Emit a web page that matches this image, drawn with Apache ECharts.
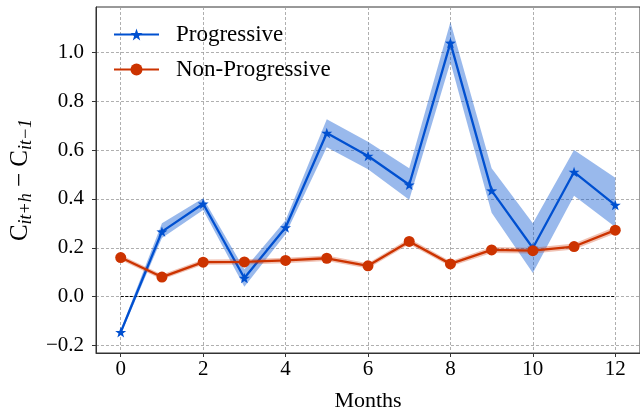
<!DOCTYPE html>
<html>
<head>
<meta charset="utf-8">
<script src="https://cdn.jsdelivr.net/npm/echarts@6/dist/echarts.min.js"></script>
<style>
  html, body { margin: 0; padding: 0; background: #fff; }
  #chart { width: 640px; height: 417px; }
</style>
</head>
<body>
<div id="chart"></div>
<script>
// data
const months = [0, 1, 2, 3, 4, 5, 6, 7, 8, 9, 10, 11, 12];

const progressive     = [-0.146, 0.266, 0.380, 0.076, 0.283, 0.670, 0.576, 0.458, 1.039, 0.434, 0.199, 0.510, 0.375];
const progressiveLow  = [-0.155, 0.240, 0.355, 0.040, 0.255, 0.612, 0.522, 0.397, 0.960, 0.343, 0.097, 0.413, 0.285];
const progressiveHigh = [-0.137, 0.300, 0.403, 0.112, 0.313, 0.726, 0.634, 0.526, 1.125, 0.526, 0.300, 0.600, 0.487];

const nonProgressive     = [0.160, 0.080, 0.141, 0.142, 0.148, 0.157, 0.126, 0.226, 0.134, 0.191, 0.188, 0.205, 0.272];
const nonProgressiveLow  = [0.150, 0.070, 0.130, 0.131, 0.137, 0.146, 0.115, 0.214, 0.123, 0.179, 0.176, 0.193, 0.258];
const nonProgressiveHigh = [0.170, 0.090, 0.152, 0.153, 0.159, 0.168, 0.137, 0.238, 0.145, 0.203, 0.200, 0.217, 0.286];

const xTicks = [0, 2, 4, 6, 8, 10, 12];
const yTicks = [-0.2, 0, 0.2, 0.4, 0.6, 0.8, 1.0];

// dashed reference line at y = 0
const zeroLine = { y: 0, from: 0, to: 12 };

const FONT = '"Liberation Serif", "DejaVu Serif", serif';
const BLUE = '#0050d0';
const RED = '#cc3300';
const STAR = 'path://M0,-10 L2.35,-3.24 L9.51,-3.09 L3.8,1.24 L5.88,8.09 L0,4 L-5.88,8.09 L-3.8,1.24 L-9.51,-3.09 L-2.35,-3.24 Z';

const chart = echarts.init(document.getElementById('chart'));

// shaded band drawn as one polygon through the axes' own scales
function bandRenderer(low, high, fill) {
    return function (params, api) {
        if (params.dataIndex !== 0) return null;
        const pts = [];
        for (let i = 0; i < months.length; i++) pts.push(api.coord([months[i], high[i]]));
        for (let i = months.length - 1; i >= 0; i--) pts.push(api.coord([months[i], low[i]]));
        return { type: 'polygon', shape: { points: pts }, style: { fill: fill } };
    };
}

function pairs(values) {
    return months.map((m, i) => [m, values[i]]);
}

function fmtY(v) {
    const s = Math.abs(v).toFixed(1);
    return v < -1e-9 ? '\u2212' + s : s;
}

const gridLine = { show: true, lineStyle: { type: [3, 2], color: '#9a9a9a', width: 0.8 } };

const option = {
    animation: false,
    backgroundColor: '#fff',
    grid: {
        left: 95, right: -10, top: 7, bottom: 60,
        show: true, borderColor: '#333', borderWidth: 1
    },
    legend: {
        data: ['Progressive', 'Non-Progressive'],
        orient: 'vertical',
        left: 113,
        top: 23,
        padding: 0,
        itemWidth: 45,
        itemHeight: 15,
        itemGap: 12,
        textStyle: { fontFamily: FONT, fontSize: 23, color: '#000', lineHeight: 22, padding: [0, 0, 0, 12] }
    },
    xAxis: {
        type: 'value',
        min: -0.6,
        max: 12.6,
        name: 'Months',
        nameLocation: 'middle',
        nameGap: 37,
        nameTextStyle: { fontFamily: FONT, fontSize: 22, color: '#000' },
        axisLine: { show: true, onZero: false, lineStyle: { color: '#333', width: 1 } },
        axisTick: { show: true, inside: false, length: 4, customValues: xTicks, lineStyle: { color: '#333' } },
        axisLabel: { customValues: xTicks, fontFamily: FONT, fontSize: 21, color: '#000', margin: 6 },
        splitLine: gridLine
    },
    yAxis: {
        type: 'value',
        min: -0.231,
        max: 1.186,
        name: '{c|C}{s|it+h}{m| \u2212 }{c|C}{s|it\u22121}',
        nameLocation: 'middle',
        nameRotate: 90,
        nameGap: 58,
        nameTextStyle: {
            fontFamily: FONT, color: '#000',
            rich: {
                c: { fontFamily: FONT, fontSize: 25, color: '#000' },
                m: { fontFamily: FONT, fontSize: 25, color: '#000' },
                s: { fontFamily: FONT, fontSize: 18, fontStyle: 'italic', color: '#000', padding: [11, 0, 0, 0] }
            }
        },
        axisLine: { show: true, onZero: false, lineStyle: { color: '#333', width: 1 } },
        axisTick: { show: true, inside: false, length: 4, customValues: yTicks, lineStyle: { color: '#333' } },
        axisLabel: { customValues: yTicks, fontFamily: FONT, fontSize: 21, color: '#000', margin: 12, formatter: fmtY },
        splitLine: gridLine
    },
    series: [
        {
            name: 'Progressive band',
            type: 'custom',
            data: months.map((m, i) => [m, progressiveLow[i], progressiveHigh[i]]),
            encode: { x: 0, y: [1, 2] },
            renderItem: bandRenderer(progressiveLow, progressiveHigh, 'rgba(0, 80, 208, 0.4)'),
            silent: true,
            z: 1
        },
        {
            name: 'Progressive',
            type: 'line',
            data: pairs(progressive),
            symbol: STAR,
            symbolKeepAspect: true,
            symbolSize: 11,
            showAllSymbol: true,
            lineStyle: { color: BLUE, width: 2.3 },
            itemStyle: { color: BLUE },
            z: 3
        },
        {
            name: 'Non-Progressive band',
            type: 'custom',
            data: months.map((m, i) => [m, nonProgressiveLow[i], nonProgressiveHigh[i]]),
            encode: { x: 0, y: [1, 2] },
            renderItem: bandRenderer(nonProgressiveLow, nonProgressiveHigh, 'rgba(204, 51, 0, 0.3)'),
            silent: true,
            z: 4
        },
        {
            name: 'Non-Progressive',
            type: 'line',
            data: pairs(nonProgressive),
            symbol: 'circle',
            symbolSize: 11,
            showAllSymbol: true,
            lineStyle: { color: RED, width: 2.3 },
            itemStyle: { color: RED },
            z: 5,
            markLine: {
                silent: true,
                symbol: ['none', 'none'],
                label: { show: false },
                lineStyle: { color: '#000', type: [3, 1.5], width: 1 },
                data: [[{ coord: [zeroLine.from, zeroLine.y] }, { coord: [zeroLine.to, zeroLine.y] }]],
                z: 2
            }
        }
    ]
};

chart.setOption(option);

window.addEventListener('resize', function () {
    chart.resize();
});
</script>
</body>
</html>
